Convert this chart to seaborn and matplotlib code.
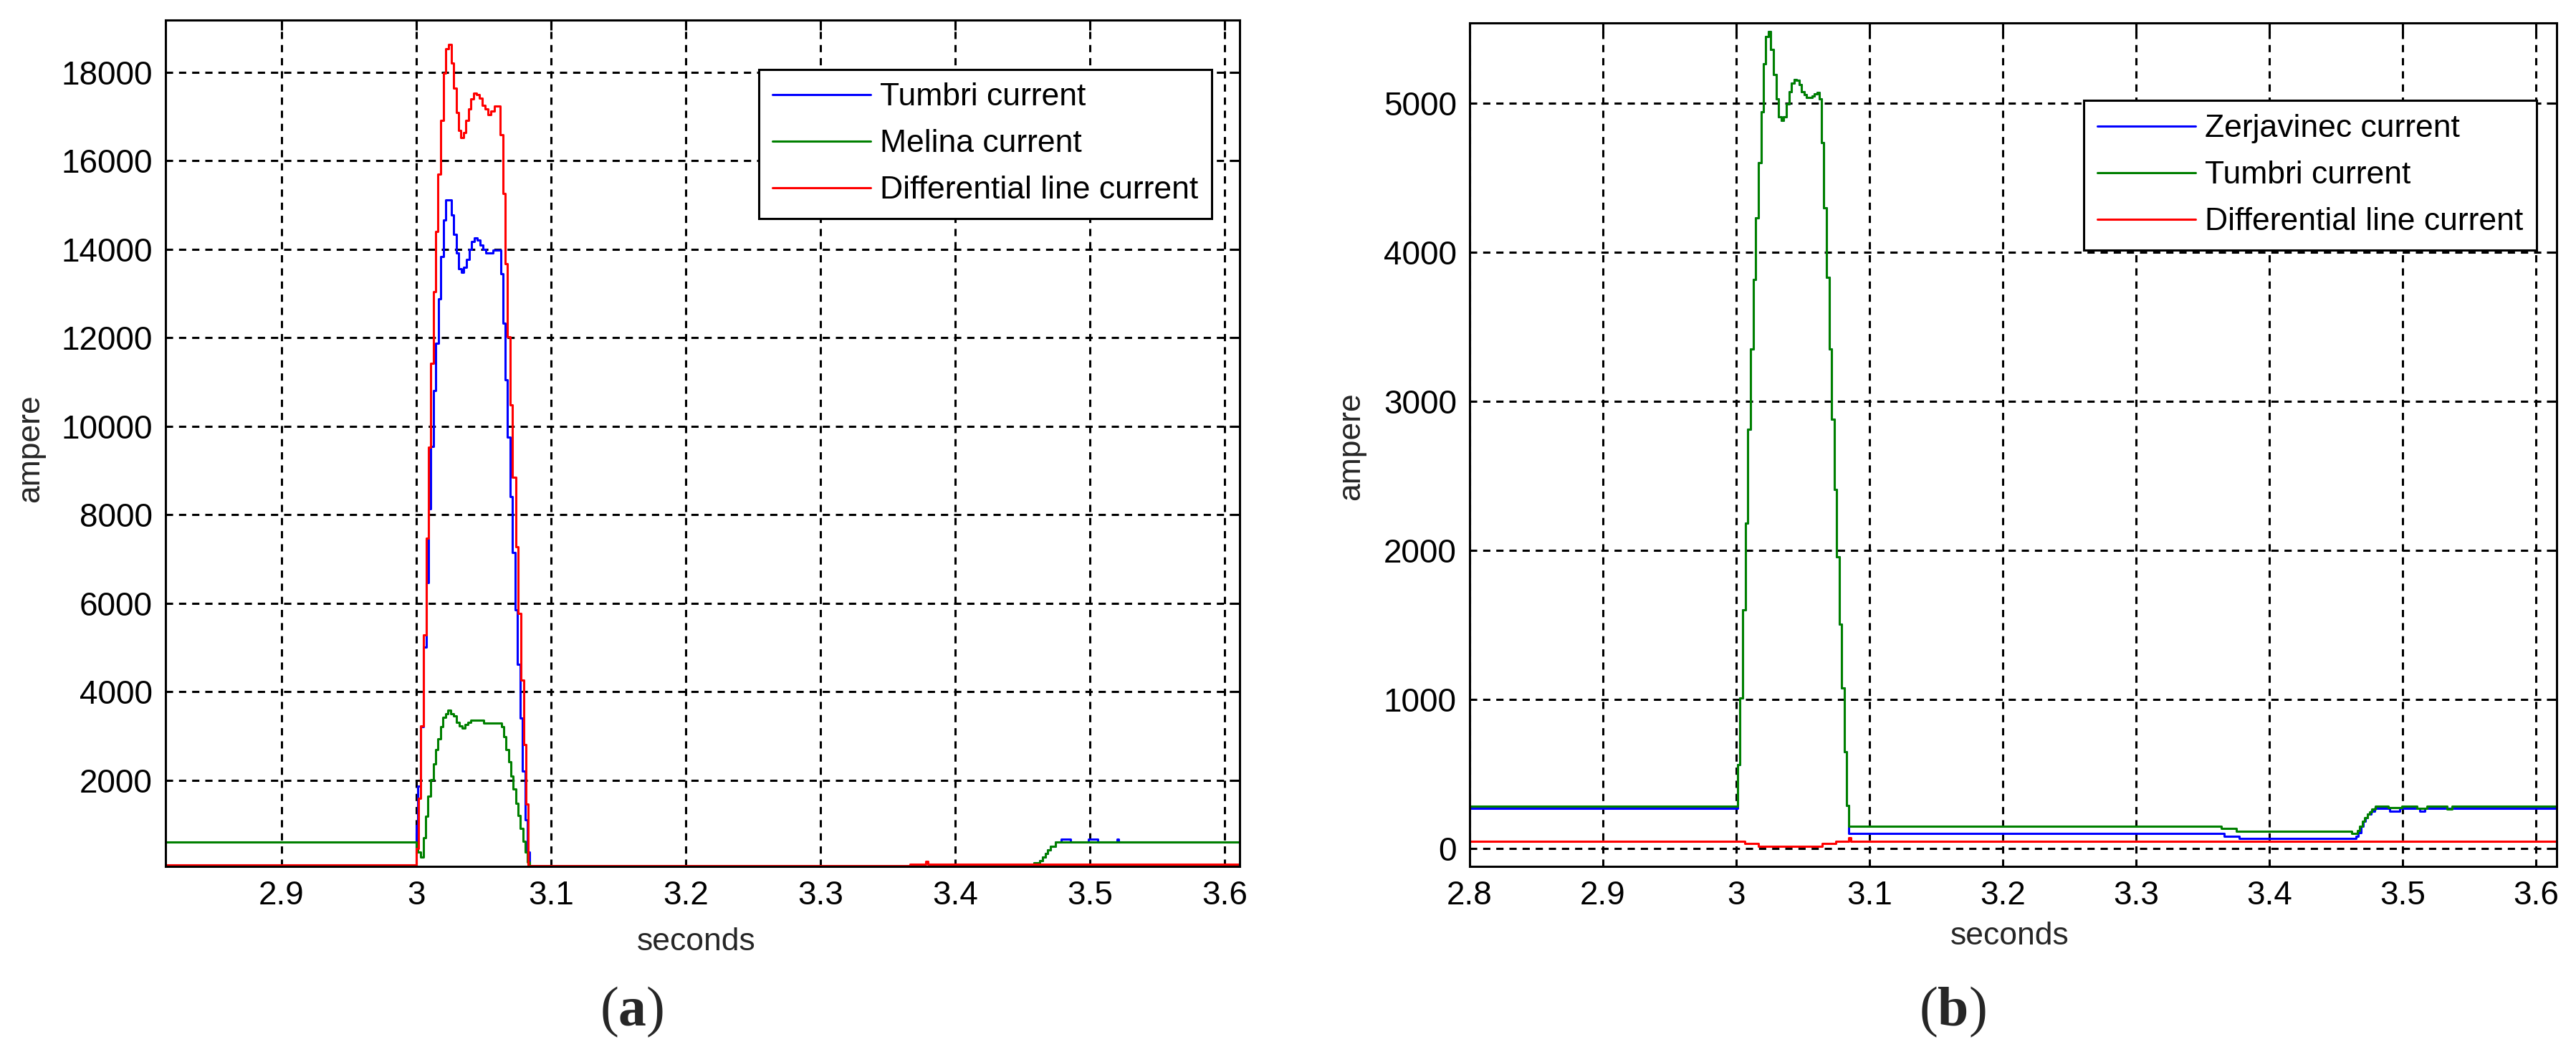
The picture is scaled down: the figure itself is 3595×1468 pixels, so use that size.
import matplotlib
matplotlib.use('Agg')
import matplotlib.pyplot as plt
import seaborn as sns
from matplotlib.ticker import FuncFormatter

# ---- data (seconds, ampere) ----
# panel (a)
a_tumbri_t = [2.80, 3.0000, 3.0012, 3.0034, 3.0052, 3.0073, 3.0090, 3.0108, 3.0128, 3.0144, 3.0163,
              3.0183, 3.0204, 3.0218, 3.0261, 3.0278, 3.0296, 3.0314, 3.0335, 3.0353, 3.0371,
              3.0392, 3.0410, 3.0431, 3.0452, 3.0473, 3.0495, 3.0516, 3.0569, 3.0626, 3.0644,
              3.0658, 3.0676, 3.0697, 3.0714, 3.0732, 3.0752, 3.0770, 3.0789, 3.0807, 3.0826,
              3.0839, 3.4583, 3.4630, 3.4649, 3.4668, 3.4686, 3.4705, 3.4743, 3.4789, 3.4854,
              3.4989, 3.5060, 3.5200, 3.5215, 3.62]
a_tumbri_v = [80, 969, 1857, 3200, 5000, 6470, 8137, 9545, 10806, 11875, 12883,
              13827, 14663, 15106, 14771, 14339, 13908, 13557, 13476, 13584, 13773,
              13989, 14177, 14258, 14204, 14096, 13989, 13919, 13973, 13449, 12332,
              11049, 9755, 8407, 7139, 5844, 4610, 3396, 2204, 1099, 370,
              55, 128, 181, 262, 343, 424, 505, 602, 667, 602,
              667, 602, 667, 602, 602]

a_melina_t = [2.80, 3.0000, 3.0011, 3.0034, 3.0052, 3.0069, 3.0087, 3.0108, 3.0126, 3.0144, 3.0161,
              3.0179, 3.0197, 3.0218, 3.0236, 3.0257, 3.0278, 3.0296, 3.0318, 3.0339, 3.0360,
              3.0381, 3.0403, 3.0498, 3.0631, 3.0649, 3.0667, 3.0684, 3.0702, 3.0720, 3.0738,
              3.0755, 3.0773, 3.0791, 3.0809, 3.0826, 3.0839, 3.4583, 3.4630, 3.4649, 3.4668,
              3.4686, 3.4705, 3.4743, 3.62]
a_melina_v = [608, 483, 370, 262, 694, 1190, 1637, 2005, 2366, 2690, 2932,
              3202, 3418, 3499, 3580, 3499, 3445, 3310, 3229, 3175, 3256,
              3310, 3348, 3294, 3202, 2987, 2690, 2420, 2097, 1799, 1475,
              1207, 909, 613, 370, 155, 55, 128, 181, 262, 343,
              424, 505, 602, 602]

a_diff_t = [2.80, 3.0000, 3.0016, 3.0034, 3.0052, 3.0073, 3.0090, 3.0108, 3.0126, 3.0144, 3.0161,
            3.0183, 3.0204, 3.0218, 3.0239, 3.0261, 3.0278, 3.0296, 3.0314, 3.0331, 3.0349,
            3.0367, 3.0388, 3.0406, 3.0427, 3.0448, 3.0470, 3.0491, 3.0512, 3.0534, 3.0555,
            3.0580, 3.0605, 3.0622, 3.0644, 3.0661, 3.0676, 3.0697, 3.0714, 3.0738, 3.0755,
            3.0778, 3.0796, 3.0814, 3.0831, 3.3665, 3.3781, 3.3800, 3.62]
a_diff_v = [90, 451, 1584, 3229, 5278, 7462, 9529, 11417, 13045, 14394, 15688,
            16902, 17980, 18520, 18627, 18196, 17630, 17090, 16685, 16523, 16631,
            16902, 17170, 17387, 17522, 17495, 17413, 17251, 17170, 17036, 17117,
            17225, 17225, 16578, 15256, 13665, 12020, 10472, 8838, 7274, 5763,
            4254, 2798, 1460, 60, 105, 165, 105, 105]

# panel (b): Zerjavinec and Tumbri overlap during the fault
b_fault_t = [3.0010, 3.0029, 3.0048, 3.0067, 3.0086, 3.0105, 3.0128, 3.0147, 3.0167, 3.0186,
             3.0203, 3.0222, 3.0241, 3.0260, 3.0280, 3.0299, 3.0318, 3.0337, 3.0356, 3.0376,
             3.0395, 3.0414, 3.0433, 3.0452, 3.0471, 3.0491, 3.0510, 3.0529, 3.0548, 3.0567,
             3.0587, 3.0606, 3.0625, 3.0640, 3.0658, 3.0677, 3.0696, 3.0715, 3.0734, 3.0753,
             3.0772, 3.0791, 3.0810, 3.0829]
b_fault_v = [560, 1010, 1600, 2180, 2810, 3350, 3814, 4231, 4599, 4939,
             5263, 5444, 5479, 5359, 5191, 5027, 4907, 4883, 4907, 4995,
             5075, 5131, 5155, 5150, 5124, 5075, 5054, 5035, 5035, 5045,
             5059, 5071, 5027, 4734, 4298, 3830, 3351, 2879, 2406, 1956,
             1506, 1078, 650, 290]

b_zerj_pre_t = [2.80]
b_zerj_pre_v = [268]
b_zerj_post_t = [3.0845, 3.3658, 3.3774, 3.4649, 3.4667, 3.4685, 3.4703, 3.4720, 3.4738,
                 3.4760, 3.4787, 3.4903, 3.4975, 3.5127, 3.5163, 3.62]
b_zerj_post_v = [99, 83, 66, 83, 107, 148, 180, 204, 228,
                 252, 268, 249, 268, 249, 268, 268]

b_tumbri_pre_t = [2.80]
b_tumbri_pre_v = [284]
b_tumbri_post_t = [3.0845, 3.3640, 3.3753, 3.4617, 3.4661, 3.4679, 3.4697, 3.4715, 3.4733,
                   3.4751, 3.4769, 3.4796, 3.4894, 3.4993, 3.5109, 3.5181, 3.5333, 3.5369, 3.62]
b_tumbri_post_v = [148, 135, 115, 99, 119, 148, 180, 204, 228,
                   247, 263, 284, 272, 284, 268, 284, 266, 284, 284]

b_diff_t = [2.80, 3.0063, 3.0165, 3.0645, 3.0746, 3.0844, 3.0860, 3.62]
b_diff_v = [48, 35, 14, 35, 48, 70, 50, 50]

a_xticks = [2.9, 3.0, 3.1, 3.2, 3.3, 3.4, 3.5, 3.6]
a_yticks = [2000, 4000, 6000, 8000, 10000, 12000, 14000, 16000, 18000]
b_xticks = [2.8, 2.9, 3.0, 3.1, 3.2, 3.3, 3.4, 3.5, 3.6]
b_yticks = [0, 1000, 2000, 3000, 4000, 5000]

a_labels = ['Tumbri current', 'Melina current', 'Differential line current']
b_labels = ['Zerjavinec current', 'Tumbri current', 'Differential line current']

BLUE = (0, 0, 1)
GREEN = (0, 0.5, 0)
RED = (1, 0, 0)

sns.set_theme(style='white')
plt.rcParams['font.family'] = ['Liberation Sans', 'DejaVu Sans']
plt.rcParams['mathtext.fontset'] = 'custom'
plt.rcParams['mathtext.rm'] = 'Liberation Serif'
plt.rcParams['mathtext.bf'] = 'Liberation Serif:bold'

FS = 32
TICK_FS = 33
LW = 2.2

fig = plt.figure(figsize=(35.95, 14.68), dpi=100)
ax_a = fig.add_axes([0.06426, 0.17643, 0.41697, 0.8047])
ax_b = fig.add_axes([0.57051, 0.17664, 0.42189, 0.80177])


def draw(ax, t, v, color, label=None):
    sns.lineplot(x=t, y=v, ax=ax, color=color, linewidth=LW, label=label,
                 estimator=None, drawstyle='steps-post', legend=False)


# panel (a)
draw(ax_a, a_tumbri_t, a_tumbri_v, BLUE, a_labels[0])
draw(ax_a, a_melina_t, a_melina_v, GREEN, a_labels[1])
draw(ax_a, a_diff_t, a_diff_v, RED, a_labels[2])

# panel (b)
zerj_t = b_zerj_pre_t + b_fault_t + b_zerj_post_t
zerj_v = b_zerj_pre_v + b_fault_v + b_zerj_post_v
tumb_t = b_tumbri_pre_t + b_fault_t + b_tumbri_post_t
tumb_v = b_tumbri_pre_v + b_fault_v + b_tumbri_post_v
draw(ax_b, zerj_t, zerj_v, BLUE, b_labels[0])
draw(ax_b, tumb_t, tumb_v, GREEN, b_labels[1])
draw(ax_b, b_diff_t, b_diff_v, RED, b_labels[2])

ax_a.set_xlim(2.8138, 3.6112)
ax_a.set_ylim(50, 19180)
ax_b.set_xlim(2.8, 3.6153)
ax_b.set_ylim(-119, 5538)

fmt = FuncFormatter(lambda x, pos: f"{x:g}")
for ax, xt, yt in [(ax_a, a_xticks, a_yticks), (ax_b, b_xticks, b_yticks)]:
    ax.set_xticks(xt)
    ax.set_yticks(yt)
    ax.xaxis.set_major_formatter(fmt)
    ax.yaxis.set_major_formatter(fmt)
    ax.grid(True, color='black', linestyle=(0, (3.3, 2.7)), linewidth=LW)
    ax.set_axisbelow(True)
    ax.tick_params(axis='both', direction='in', length=10, width=LW, color='black',
                   labelsize=TICK_FS, labelcolor='black', top=True, right=True)
    ax.tick_params(axis='y', pad=13)
    ax.tick_params(axis='x', pad=14)
    for sp in ax.spines.values():
        sp.set_visible(True)
        sp.set_color('black')
        sp.set_linewidth(LW)
    ax.set_xlabel('')
    ax.set_ylabel('')

ax_a.text(-0.126, 0.4937, 'ampere', transform=ax_a.transAxes, rotation=90,
          ha='center', va='center', fontsize=FS)
ax_a.text(0.4943, -0.0889, 'seconds', transform=ax_a.transAxes,
          ha='center', va='center', fontsize=FS)
ax_b.text(-0.1088, 0.4976, 'ampere', transform=ax_b.transAxes, rotation=90,
          ha='center', va='center', fontsize=FS)
ax_b.text(0.4971, -0.0827, 'seconds', transform=ax_b.transAxes,
          ha='center', va='center', fontsize=FS)

for ax, anchor in [(ax_a, (0.974, 0.9416)), (ax_b, (0.9817, 0.9076))]:
    leg = ax.legend(loc='upper right', bbox_to_anchor=anchor, borderaxespad=0,
                    fontsize=FS, frameon=True, fancybox=False, framealpha=1,
                    edgecolor='black', borderpad=0.42, labelspacing=0.54,
                    handlelength=3.08, handletextpad=0.3)
    leg.get_frame().set_linewidth(LW)
    for txt in leg.get_texts():
        txt.set_color('black')

fig.text(0.2453, 0.038, r'$\mathrm{(}\mathbf{a}\mathrm{)}$', ha='center', va='center', fontsize=56)
fig.text(0.758, 0.038, r'$\mathrm{(}\mathbf{b}\mathrm{)}$', ha='center', va='center', fontsize=56)

fig.savefig('out.png', dpi=100, facecolor='white')
